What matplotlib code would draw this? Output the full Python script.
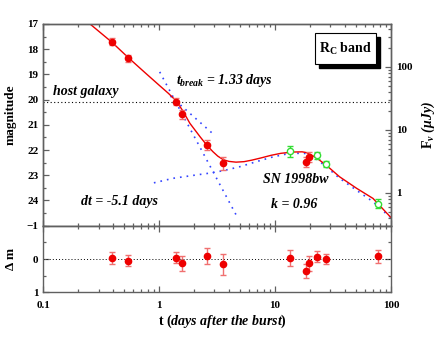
import numpy as np
import matplotlib
matplotlib.use("Agg")
import matplotlib.pyplot as plt
from matplotlib.ticker import LogLocator, MultipleLocator, NullFormatter, FixedLocator, FixedFormatter
from matplotlib.patches import Rectangle

# ---------------- data ----------------
t_red = [0.39, 0.54, 1.41, 1.58, 2.58, 3.56, 18.6, 19.5]
m_red = [17.70, 18.36, 20.08, 20.58, 21.79, 22.53, 22.48, 22.28]
e_red = [0.15, 0.15, 0.15, 0.18, 0.20, 0.25, 0.20, 0.20]

t_green = [13.4, 23.2, 27.4, 77.3]
m_green = [22.04, 22.21, 22.56, 24.12]
e_green = [0.22, 0.15, 0.13, 0.18]

t_res = [0.39, 0.54, 1.41, 1.58, 2.58, 3.56, 13.4, 18.6, 19.5, 23.2, 27.4, 77.3]
dm_res = [-0.02, 0.05, -0.04, 0.13, -0.09, 0.16, -0.04, 0.36, 0.13, -0.07, 0.0, -0.08]
e_res = [0.18, 0.17, 0.17, 0.22, 0.23, 0.31, 0.24, 0.22, 0.23, 0.17, 0.15, 0.20]

fit_t = [0.253, 0.39, 0.54, 0.75, 1.0, 1.2, 1.41, 1.6, 1.84, 2.25, 2.57, 2.9, 3.2, 3.56,
         4.0, 4.6, 5.4, 6.3, 7.6, 9.2, 11.2, 14.0, 17.1, 18.6, 20.5, 22.9, 27.6, 36.0,
         50.6, 70.0, 100.0]
fit_m = [17.0, 17.72, 18.33, 18.92, 19.43, 19.75, 20.06, 20.45, 20.94, 21.47, 21.80,
         22.06, 22.24, 22.38, 22.45, 22.48, 22.46, 22.40, 22.31, 22.21, 22.13, 22.08,
         22.07, 22.10, 22.19, 22.32, 22.60, 23.06, 23.52, 23.92, 24.68]

sn_t = [0.9, 1.32, 2.0, 2.58, 3.56, 4.97, 6.9, 9.6, 13.4, 17.9, 21.9, 27.6, 36.0, 50.6, 70.0, 98.0]
sn_m = [23.30, 23.12, 23.00, 22.93, 22.82, 22.66, 22.46, 22.27, 22.13, 22.13, 22.30, 22.66,
        23.12, 23.60, 24.05, 24.66]

early_t = [1.25, 2.95]
early_m = [19.86, 21.38]
late_t = [1.01, 4.77]
late_m = [18.90, 24.70]

host_mag = 20.1
zero_point = 23.7   # m = ZP - 2.5 log10(F [uJy])

x_ticks = [0.1, 1, 10, 100]
x_ticklabels = ["0.1", "1", "10", "100"]
mag_ticks = [17, 18, 19, 20, 21, 22, 23, 24]
res_ticks = [-1, 0, 1]
flux_ticks = [1, 10, 100]

# ---------------- style ----------------
SERIF = "Liberation Serif"
plt.rcParams["font.family"] = [SERIF, "DejaVu Serif"]
plt.rcParams["font.weight"] = "bold"
plt.rcParams["mathtext.fontset"] = "custom"
plt.rcParams["mathtext.rm"] = "Liberation Serif"
plt.rcParams["mathtext.it"] = "Liberation Serif:italic:bold"
plt.rcParams["mathtext.bf"] = "Liberation Serif:bold"
plt.rcParams["mathtext.sf"] = "Liberation Serif:italic"

SP = "#606060"
RED = "#ee0000"
RED_E = "#f07070"
GREEN = "#33dd33"
BLUE = "#3344ff"

fig = plt.figure(figsize=(4.36, 3.37), dpi=100)
L, W = 0.0993, 0.7975
ax = fig.add_axes([L, 0.3303, W, 0.5985])
axr = fig.add_axes([L, 0.1326, W, 0.1977], sharex=ax)

def style(a):
    for s in a.spines.values():
        s.set_color(SP)
        s.set_linewidth(1.0)
    a.tick_params(which="both", direction="in", colors=SP, labelcolor="black",
                  labelsize=8, width=0.9)
    a.tick_params(which="major", length=4.5)
    a.tick_params(which="minor", length=2.5)

style(ax)
style(axr)

# ---------------- top panel ----------------
ax.set_xscale("log")
ax.set_xlim(0.1, 100)
ax.set_ylim(25, 17)

ax.axhline(host_mag, color="black", lw=0.8, ls=(0, (1, 2.2)))
ax.plot(sn_t, sn_m, color=BLUE, lw=1.2, ls=(0, (1, 3)))
ax.plot(early_t, early_m, color=BLUE, lw=1.2, ls=(0, (1, 3)))
ax.plot(late_t, late_m, color=BLUE, lw=1.2, ls=(0, (1, 3)))
ax.plot(fit_t, fit_m, color=RED, lw=1.0)

ax.errorbar(t_red, m_red, yerr=e_red, fmt="o", color=RED, ecolor=RED_E, ms=4.5,
            elinewidth=1.0, capsize=2.2, capthick=1.0, zorder=5)
ax.errorbar(t_green, m_green, yerr=e_green, fmt="o", mfc="white", mec=GREEN, ecolor=GREEN,
            ms=4.5, mew=1.0, elinewidth=1.0, capsize=2.2, capthick=1.0, zorder=6)

ax.yaxis.set_major_locator(FixedLocator(mag_ticks))
ax.yaxis.set_minor_locator(MultipleLocator(0.5))
ax.tick_params(axis="y", which="both", right=False)
ax.tick_params(axis="x", which="both", top=True, bottom=True, labelbottom=False)
ax.set_ylabel("magnitude", fontsize=9.5, fontweight="bold")
ax.yaxis.set_label_coords(-0.077, 0.55)

# right flux axis
axf = ax.twinx()
axf.set_yscale("log")
axf.set_ylim(10 ** ((zero_point - 25) / 2.5), 10 ** ((zero_point - 17) / 2.5))
style(axf)
axf.tick_params(axis="y", which="both", left=False)
axf.yaxis.set_major_locator(FixedLocator(flux_ticks))
axf.yaxis.set_major_formatter(FixedFormatter([str(v) for v in flux_ticks]))
axf.yaxis.set_minor_locator(LogLocator(base=10, subs=np.arange(2, 10)))
axf.yaxis.set_minor_formatter(NullFormatter())
axf.set_ylabel(r"$\mathrm{F}_\nu$ $\mathsf{(\mu Jy)}$", fontsize=10, rotation=90)
axf.yaxis.set_label_coords(1.083, 0.50)

# annotations
tkw = dict(fontsize=10, fontstyle="italic", fontweight="bold", va="baseline")
ax.text(0.121, 19.82, "host galaxy", **tkw)
ax.text(1.41, 19.38, r"$t_{break}$ = 1.33 days", **tkw)
ax.text(7.88, 23.32, "SN 1998bw", **tkw)
ax.text(9.18, 24.31, "k = 0.96", **tkw)
ax.text(0.211, 24.18, "dt = -5.1 days", **tkw)

# R_C band box with shadow
bx0, by0, bw, bh = 0.781, 0.800, 0.176, 0.154
ax.add_patch(Rectangle((bx0 + 0.0115, by0 - 0.020), bw, bh, transform=ax.transAxes,
                       facecolor="black", edgecolor="black", zorder=7))
ax.add_patch(Rectangle((bx0, by0), bw, bh, transform=ax.transAxes,
                       facecolor="white", edgecolor="black", lw=0.8, zorder=8))
ax.text(bx0 + bw / 2, by0 + bh / 2, r"$\mathrm{R_C}$ band", transform=ax.transAxes,
        ha="center", va="center", fontsize=10, fontweight="bold", zorder=9)

# ---------------- residual panel ----------------
axr.set_ylim(1, -1)
axr.axhline(0, color="black", lw=0.7, ls=(0, (1, 2.2)))
axr.errorbar(t_res, dm_res, yerr=e_res, fmt="o", color=RED, ecolor=RED_E, ms=4.5,
             elinewidth=1.0, capsize=2.2, capthick=1.0, zorder=5)
axr.yaxis.set_major_locator(FixedLocator(res_ticks))
axr.yaxis.set_minor_locator(MultipleLocator(0.5))
axr.tick_params(axis="both", which="both", top=True, right=True)
axr.tick_params(axis="x", which="major", pad=6.5)
axr.xaxis.set_major_locator(FixedLocator(x_ticks))
axr.xaxis.set_major_formatter(FixedFormatter(x_ticklabels))
axr.xaxis.set_minor_locator(LogLocator(base=10, subs=np.arange(2, 10)))
axr.xaxis.set_minor_formatter(NullFormatter())
axr.set_ylabel("Δ m", fontsize=9.5, fontweight="bold")
axr.yaxis.set_label_coords(-0.077, 0.5)
axr.set_xlabel(r"$\mathbf{t}$ $\mathit{(days\ after\ the\ burst)}$", fontsize=10)
axr.xaxis.set_label_coords(0.516, -0.31)

fig.savefig("out.png", dpi=100)
